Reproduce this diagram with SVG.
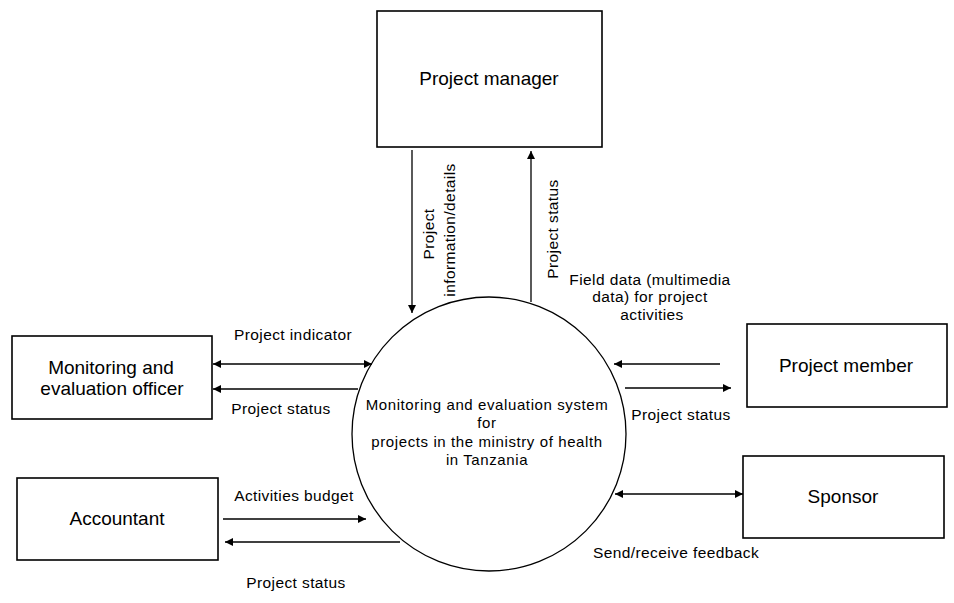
<svg xmlns="http://www.w3.org/2000/svg" width="954" height="603" viewBox="0 0 954 603">
<style>
.box{fill:#fff;stroke:#000;stroke-width:1.6}
.ln{stroke:#000;stroke-width:1.3;fill:none}
.nt{font-family:"Liberation Sans",Arial,sans-serif;font-size:19px;fill:#000;text-anchor:middle}
.lb{font-family:"Liberation Sans",Arial,sans-serif;font-size:15.5px;letter-spacing:0.4px;fill:#000;text-anchor:middle}
.ct{font-family:"Liberation Sans",Arial,sans-serif;font-size:15px;letter-spacing:0.6px;fill:#000;text-anchor:middle}
</style>
<defs>
<marker id="ah" viewBox="0 0 10 10" refX="10" refY="5" markerWidth="10" markerHeight="8" markerUnits="userSpaceOnUse" orient="auto-start-reverse">
<path d="M0,0 L10,5 L0,10 z" fill="#000"/>
</marker>
</defs>
<rect width="954" height="603" fill="#fff"/>
<g id="project-manager">
<rect class="box" x="377" y="11" width="225" height="136"/>
<text class="nt" x="489" y="85">Project manager</text>
</g>
<g id="system">
<circle cx="489" cy="434" r="137" fill="#fff" stroke="#000" stroke-width="1.3"/>
<text class="ct" x="487" y="410">Monitoring and evaluation system</text>
<text class="ct" x="487" y="428">for</text>
<text class="ct" x="487" y="447">projects in the ministry of health</text>
<text class="ct" x="487" y="465">in Tanzania</text>
</g>
<g id="me-officer">
<rect class="box" x="12" y="336" width="200" height="83"/>
<text class="nt" x="111" y="374">Monitoring and</text>
<text class="nt" x="112" y="395">evaluation officer</text>
</g>
<g id="accountant">
<rect class="box" x="17" y="478" width="201" height="82"/>
<text class="nt" x="117" y="525">Accountant</text>
</g>
<g id="project-member">
<rect class="box" x="747" y="324" width="200" height="83"/>
<text class="nt" x="846" y="372">Project member</text>
</g>
<g id="sponsor">
<rect class="box" x="743" y="456" width="201" height="82"/>
<text class="nt" x="843" y="503">Sponsor</text>
</g>
<g id="connectors">
<line class="ln" x1="412" y1="150" x2="412" y2="313" marker-end="url(#ah)"/>
<line class="ln" x1="531" y1="302" x2="531" y2="151" marker-end="url(#ah)"/>
<line class="ln" x1="213" y1="364" x2="372" y2="364" marker-start="url(#ah)" marker-end="url(#ah)"/>
<line class="ln" x1="358" y1="389" x2="213" y2="389" marker-end="url(#ah)"/>
<line class="ln" x1="223" y1="519" x2="366" y2="519" marker-end="url(#ah)"/>
<line class="ln" x1="400" y1="542" x2="225" y2="542" marker-end="url(#ah)"/>
<line class="ln" x1="720" y1="364" x2="614" y2="364" marker-end="url(#ah)"/>
<line class="ln" x1="625" y1="388" x2="731" y2="388" marker-end="url(#ah)"/>
<line class="ln" x1="615" y1="494" x2="743" y2="494" marker-start="url(#ah)" marker-end="url(#ah)"/>
</g>
<g id="labels">
<text class="lb" transform="translate(434,234) rotate(-90)">Project</text>
<text class="lb" transform="translate(455,230) rotate(-90)">information/details</text>
<text class="lb" transform="translate(558,229) rotate(-90)">Project status</text>
<text class="lb" x="650" y="285">Field data (multimedia</text>
<text class="lb" x="650" y="302">data) for project</text>
<text class="lb" x="652" y="320">activities</text>
<text class="lb" x="293" y="340">Project indicator</text>
<text class="lb" x="281" y="414">Project status</text>
<text class="lb" x="294" y="501">Activities budget</text>
<text class="lb" x="296" y="588">Project status</text>
<text class="lb" x="681" y="420">Project status</text>
<text class="lb" x="676" y="558">Send/receive feedback</text>
</g>
</svg>
